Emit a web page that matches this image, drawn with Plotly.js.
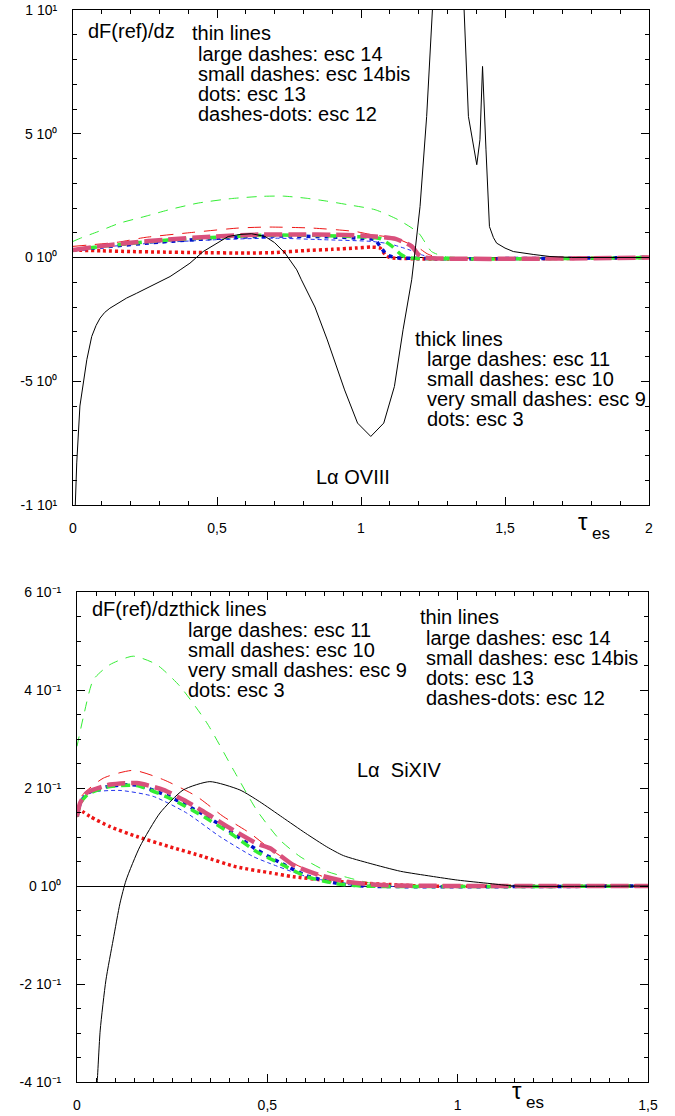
<!DOCTYPE html>
<html>
<head>
<meta charset="utf-8">
<script src="https://cdn.plot.ly/plotly-3.0.1.min.js"></script>
<style>html,body{margin:0;padding:0;background:#fff;}#chart{width:675px;height:1116px;}</style>
</head>
<body>
<div id="chart"></div>
<script>
// ---------- Top panel (L alpha OVIII) ----------
const topBlackX = [0.005,0.008,0.013,0.024,0.036,0.048,0.065,0.08,0.094,0.11,0.128,0.16,0.186,0.22,0.256,0.3,0.337,0.372,0.406,0.452,0.5,0.539,0.58,0.62,0.667,0.70,0.736,0.777,0.793,0.84,0.883,0.943,0.988,1.034,1.079,1.116,1.146,1.176,1.19,1.205,1.228,1.248,1.30,1.358,1.373,1.402,1.413,1.422,1.434,1.446,1.46,1.471,1.5,1.529,1.6,1.656,1.73,2.0];
const topBlackY = [-11,-10,-8.3,-6.0,-5.07,-4.13,-3.19,-2.75,-2.45,-2.22,-2.05,-1.82,-1.64,-1.45,-1.24,-1.0,-0.77,-0.5,-0.23,0.24,0.57,0.85,0.93,0.96,0.85,0.6,0.18,-0.5,-0.9,-2.0,-3.33,-5.35,-6.69,-7.23,-6.69,-5.21,-2.92,-0.9,0.5,2.06,5.7,10.0,14,10,5.7,3.75,4.76,7.72,4.35,1.25,0.8,0.58,0.38,0.24,0.12,0.04,0,0];

const topGreenThinX = [0,0.03,0.088,0.16,0.25,0.34,0.435,0.55,0.655,0.73,0.806,0.88,0.956,1.049,1.13,1.2,1.245,1.29,1.35,2];
const topGreenThinY = [0.65,0.8,1.05,1.38,1.66,1.95,2.2,2.38,2.47,2.48,2.4,2.28,2.13,1.93,1.52,0.99,0.24,0.04,0,0];

const topRedThinX = [0,0.05,0.157,0.25,0.412,0.574,0.678,0.829,0.98,1.037,1.12,1.176,1.2,1.23,1.27,2];
const topRedThinY = [0.45,0.5,0.62,0.81,1.01,1.19,1.23,1.19,1.05,0.92,0.78,0.51,0.39,0.15,0,0];

const topBlueThinX = [0,0.1,0.3,0.5,0.7,0.865,1.037,1.1,1.13,1.17,1.21,1.25,2];
const topBlueThinY = [0.3,0.42,0.6,0.72,0.78,0.72,0.65,0.55,0.45,0.3,0.11,0,0];

const topRedDotsX = [0,0.1,0.2,0.3,0.435,0.6,0.7,0.806,0.9,0.98,1.037,1.066,1.085,1.1,2];
const topRedDotsY = [0.3,0.27,0.24,0.22,0.2,0.18,0.2,0.28,0.33,0.38,0.42,0.38,0.1,0,0];

const topBlueThickX = [0,0.1,0.3,0.5,0.7,0.9,1.0,1.049,1.066,1.09,1.12,2];
const topBlueThickY = [0.3,0.42,0.62,0.78,0.87,0.83,0.78,0.72,0.45,0.11,0,0];

const topGreenThickX = [0,0.1,0.3,0.5,0.655,0.8,0.95,1.05,1.07,1.106,1.14,1.16,2];
const topGreenThickY = [0.3,0.45,0.68,0.82,0.9,0.9,0.86,0.8,0.75,0.47,0.11,0,0];

const topPinkThickX = [0,0.088,0.2,0.32,0.493,0.655,0.8,0.898,1.0,1.049,1.12,1.176,1.2,1.22,2];
const topPinkThickY = [0.3,0.45,0.6,0.72,0.85,0.93,0.93,0.92,0.89,0.85,0.75,0.45,0.11,0,0];

// ---------- Bottom panel (L alpha SiXIV) ----------
const botBlackX = [0.048,0.053,0.061,0.076,0.095,0.113,0.129,0.165,0.218,0.279,0.349,0.428,0.48,0.54,0.6,0.656,0.7,0.77,0.85,0.93,1.0,1.085,1.15,1.5];
const botBlackY = [-0.45,-0.401,-0.294,-0.192,-0.110,-0.035,0.012,0.080,0.149,0.196,0.213,0.196,0.172,0.14,0.108,0.08,0.062,0.046,0.03,0.02,0.012,0.005,0,0];

const botGreenThinX = [0,0.017,0.043,0.087,0.148,0.209,0.27,0.341,0.411,0.472,0.533,0.586,0.656,0.717,0.77,0.85,1.5];
const botGreenThinY = [0.285,0.346,0.421,0.452,0.469,0.452,0.408,0.333,0.237,0.155,0.094,0.06,0.03,0.016,0.006,0,0];

const botRedThinX = [0,0.012,0.069,0.148,0.227,0.314,0.384,0.454,0.507,0.551,0.647,0.72,0.8,1.5];
const botRedThinY = [0.14,0.183,0.22,0.236,0.217,0.183,0.142,0.108,0.076,0.053,0.019,0.006,0,0];

const botBlueThinX = [0,0.01,0.034,0.113,0.2,0.288,0.375,0.463,0.507,0.6,0.7,0.75,1.5];
const botBlueThinY = [0.142,0.17,0.19,0.195,0.183,0.149,0.101,0.06,0.046,0.02,0.004,0,0];

const botRedDotsX = [0,0.034,0.087,0.157,0.244,0.332,0.419,0.507,0.568,0.65,0.743,0.85,0.9,1.5];
const botRedDotsY = [0.16,0.142,0.121,0.101,0.08,0.06,0.039,0.027,0.019,0.012,0.006,0.002,0,0];

const botBlueThickX = [0,0.01,0.03,0.087,0.157,0.244,0.332,0.402,0.472,0.533,0.603,0.68,0.75,1.5];
const botBlueThickY = [0.142,0.172,0.19,0.204,0.206,0.182,0.146,0.112,0.074,0.048,0.021,0.006,0,0];

const botGreenThickX = [0,0.01,0.03,0.087,0.157,0.244,0.332,0.402,0.472,0.533,0.603,0.68,0.75,1.5];
const botGreenThickY = [0.142,0.17,0.188,0.203,0.205,0.179,0.142,0.108,0.07,0.046,0.019,0.005,0,0];

const botPinkThickX = [0,0.008,0.025,0.087,0.157,0.227,0.279,0.332,0.402,0.472,0.507,0.568,0.638,0.708,0.8,1.5];
const botPinkThickY = [0.142,0.169,0.19,0.207,0.21,0.196,0.176,0.152,0.118,0.087,0.077,0.043,0.022,0.009,0.002,0];

// ---------- Tick labels ----------
const topXTickVals = [0,0.5,1,1.5,2];
const topXTickText = ["0","0,5","1","1,5","2"];
const topYTickVals = [-10,-5,0,5,10];
const topYTickText = ["-1 10¹","-5 10⁰","0 10⁰","5 10⁰","1 10¹"];
const botXTickVals = [0,0.5,1,1.5];
const botXTickText = ["0","0,5","1","1,5"];
const botYTickVals = [-0.4,-0.2,0,0.2,0.4,0.6];
const botYTickText = ["-4 10⁻¹","-2 10⁻¹","0 10⁰","2 10⁻¹","4 10⁻¹","6 10⁻¹"];

// ---------- Styles ----------
const GREEN = '#33ee33', RED = '#ee1515', BLUE_THIN = '#2233ee', BLUE = '#0010cc', PINK = '#d9507c';

function tr(x, y, xa, ya, color, width, dash, shape) {
  return {x: x, y: y, xaxis: xa, yaxis: ya, type: 'scatter', mode: 'lines',
    line: {color: color, width: width, dash: dash, shape: shape || 'spline', smoothing: 0.6},
    hoverinfo: 'skip', showlegend: false};
}

const data = [
  tr(topGreenThinX, topGreenThinY, 'x', 'y', GREEN, 1, '10px,8px'),
  tr(topRedThinX, topRedThinY, 'x', 'y', RED, 1, '13px,9px'),
  tr(topBlueThinX, topBlueThinY, 'x', 'y', BLUE_THIN, 1, '4px,3px'),
  tr(topRedDotsX, topRedDotsY, 'x', 'y', RED, 3.5, '3px,3px'),
  tr(topBlueThickX, topBlueThickY, 'x', 'y', BLUE, 3.5, '4px,5px'),
  tr(topGreenThickX, topGreenThickY, 'x', 'y', GREEN, 3.5, '9px,6px'),
  tr(topPinkThickX, topPinkThickY, 'x', 'y', PINK, 4.5, '18px,6px'),
  tr(topBlackX, topBlackY, 'x', 'y', '#000', 1, 'solid', 'linear'),

  tr(botGreenThinX, botGreenThinY, 'x2', 'y2', GREEN, 1, '10px,8px'),
  tr(botRedThinX, botRedThinY, 'x2', 'y2', RED, 1, '13px,9px'),
  tr(botBlueThinX, botBlueThinY, 'x2', 'y2', BLUE_THIN, 1, '4px,3px'),
  tr(botRedDotsX, botRedDotsY, 'x2', 'y2', RED, 3.5, '3px,3px'),
  tr(botBlueThickX, botBlueThickY, 'x2', 'y2', BLUE, 3.5, '4px,5px'),
  tr(botGreenThickX, botGreenThickY, 'x2', 'y2', GREEN, 3.5, '9px,6px'),
  tr(botPinkThickX, botPinkThickY, 'x2', 'y2', PINK, 4.5, '18px,6px'),
  tr(botBlackX, botBlackY, 'x2', 'y2', '#000', 1, 'solid')
];

const W = 675, H = 1116;
const px = v => v / W;
const py = v => 1 - v / H;
const FONT = 'Liberation Sans, Arial, sans-serif';

function axisBase(extra) {
  return Object.assign({
    showline: true, linecolor: '#000', linewidth: 1, mirror: 'ticks',
    ticks: 'inside', ticklen: 8, tickwidth: 1, tickcolor: '#000',
    showgrid: false, zeroline: false, fixedrange: true,
    tickfont: {family: FONT, size: 14, color: '#000'},
    tickmode: 'array'
  }, extra);
}

function ann(text, x, y, size, anchor) {
  return {text: text, xref: 'paper', yref: 'paper', x: px(x), y: py(y),
    xanchor: anchor || 'left', yanchor: 'middle', showarrow: false,
    font: {family: FONT, size: size || 20, color: '#000'}};
}

const layout = {
  width: W, height: H,
  margin: {l: 0, r: 0, t: 0, b: 0},
  paper_bgcolor: '#fff', plot_bgcolor: '#fff',
  showlegend: false,
  xaxis: axisBase({domain: [px(73), px(649)], range: [0, 2], anchor: 'y',
    tickvals: topXTickVals, ticktext: topXTickText, ticklabelstandoff: 10,
    minor: {tickmode: 'linear', tick0: 0, dtick: 0.1, ticks: 'inside', ticklen: 4, tickcolor: '#000', showgrid: false}}),
  yaxis: axisBase({domain: [py(505), py(10)], range: [-10, 10], anchor: 'x',
    tickvals: topYTickVals, ticktext: topYTickText, ticklabelstandoff: 12,
    zeroline: true, zerolinecolor: '#000', zerolinewidth: 1,
    minor: {tickmode: 'linear', tick0: 0, dtick: 1, ticks: 'inside', ticklen: 4, tickcolor: '#000', showgrid: false}}),
  xaxis2: axisBase({domain: [px(77), px(648)], range: [0, 1.5], anchor: 'y2',
    tickvals: botXTickVals, ticktext: botXTickText, ticklabelstandoff: 10,
    minor: {tickmode: 'linear', tick0: 0, dtick: 0.05, ticks: 'inside', ticklen: 4, tickcolor: '#000', showgrid: false}}),
  yaxis2: axisBase({domain: [py(1082), py(592)], range: [-0.4, 0.6], anchor: 'x2',
    tickvals: botYTickVals, ticktext: botYTickText, ticklabelstandoff: 12,
    zeroline: true, zerolinecolor: '#000', zerolinewidth: 1,
    minor: {tickmode: 'linear', tick0: 0, dtick: 0.05, ticks: 'inside', ticklen: 4, tickcolor: '#000', showgrid: false}}),
  annotations: [
    ann('dF(ref)/dz', 86, 31),
    ann('thin lines', 190, 33),
    ann('large dashes: esc 14', 196, 54),
    ann('small dashes: esc 14bis', 196, 74),
    ann('dots: esc 13', 196, 94),
    ann('dashes-dots: esc 12', 196, 114),
    ann('thick lines', 413, 339),
    ann('large dashes: esc 11', 425, 359),
    ann('small dashes: esc 10', 425, 379),
    ann('very small dashes: esc 9', 425, 399),
    ann('dots: esc 3', 425, 419),
    ann('Lα OVIII', 314, 477),
    ann('τ', 576, 521, 24),
    ann('es', 590, 533, 17),

    ann('dF(ref)/dzthick lines', 90, 609),
    ann('large dashes: esc 11', 186, 630),
    ann('small dashes: esc 10', 186, 650),
    ann('very small dashes: esc 9', 186, 670),
    ann('dots: esc 3', 186, 690),
    ann('thin lines', 418, 617),
    ann('large dashes: esc 14', 424, 638),
    ann('small dashes: esc 14bis', 424, 658),
    ann('dots: esc 13', 424, 678),
    ann('dashes-dots: esc 12', 424, 698),
    ann('Lα  SiXIV', 355, 770),
    ann('τ', 510, 1090, 24),
    ann('es', 524, 1102, 17)
  ]
};

Plotly.newPlot('chart', data, layout, {staticPlot: true, displayModeBar: false});
</script>
</body>
</html>
